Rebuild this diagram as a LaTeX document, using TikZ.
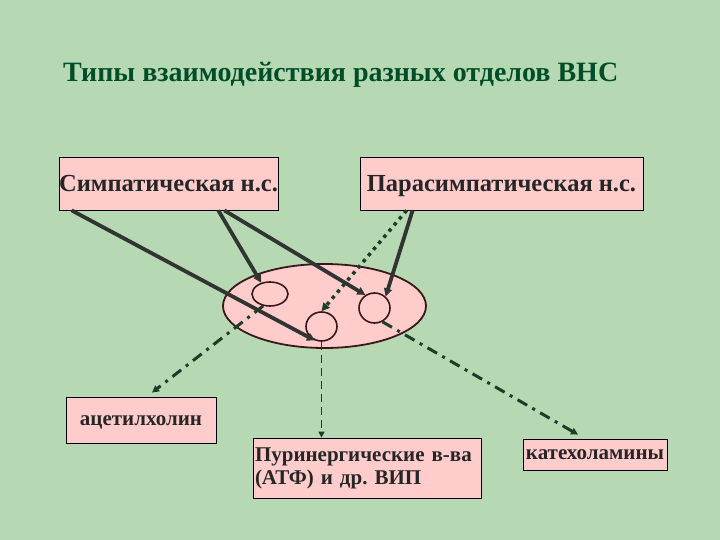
\documentclass[tikz,border=0pt]{standalone}
\usepackage{fontspec}
\setmainfont{Liberation Serif}[BoldFont={Liberation Serif Bold}]
\frenchspacing
\usetikzlibrary{arrows.meta,shapes.geometric}
\definecolor{cBack}{RGB}{182,217,180}
\definecolor{cPink}{RGB}{255,204,204}
\definecolor{cTitle}{RGB}{0,78,40}
\definecolor{cLine}{RGB}{50,52,50}
\definecolor{cDash}{RGB}{28,62,40}
\definecolor{cRim}{RGB}{55,25,25}
\tikzset{
  box/.style={draw=black, line width=0.8pt, fill=cPink, inner sep=0pt, text=black!85},
  bigtext/.style={font=\fontsize{24.5}{28}\selectfont\bfseries, text height=17pt, text depth=0pt},
  smalltext/.style={font=\fontsize{21}{23}\selectfont\bfseries},
  cell/.style={ellipse, draw=cRim, line width=1.6pt, inner sep=0pt},
  axon/.style={cLine, line width=3.8pt, -{Triangle[length=8pt,width=8pt]}},
  dotax/.style={cDash, line width=3.5pt, dash pattern=on 3.5pt off 4.5pt, -{Triangle[length=8pt,width=8pt]}},
  dashdot/.style={cDash, line width=3pt, dash pattern=on 11pt off 6pt on 3pt off 6pt, -{Triangle[length=7pt,width=7pt]}},
  thindash/.style={cDash, line width=1.5pt, dash pattern=on 8pt off 5pt, -{Triangle[length=6pt,width=6pt]}}
}
\begin{document}
\begin{tikzpicture}[x=1pt,y=-1pt]
        \fill[cBack] (0,0) rectangle (720,540);
        \useasboundingbox (0,0) rectangle (720,540);
        % title
        \node[anchor=base west, inner sep=0pt, text=cTitle, font=\fontsize{28}{32}\selectfont\bfseries] (title) at (63,82) {Типы взаимодействия разных отделов ВНС};
        % top boxes
        \node[box, bigtext, minimum width=217pt, minimum height=53pt] (symp) at (168.5,183.5) {Симпатическая н.с.};
        \node[box, bigtext, minimum width=283pt, minimum height=53pt] (para) at (501.5,183.5) {Парасимпатическая н.с.};
        % effector with three cells
        \node[ellipse, draw=cRim, line width=1.8pt, fill=cPink, minimum width=203pt, minimum height=84pt] (organ) at (324.5,306) {};
        \node[cell, minimum width=36pt, minimum height=24pt] (c1) at (270,294) {};
        \node[cell, minimum width=31pt, minimum height=29pt] (c2) at (321.5,326.5) {};
        \node[cell, minimum width=31pt, minimum height=30pt] (c3) at (374.5,308) {};
        % mediators
        \node[box, smalltext, text height=10pt, text depth=0pt, minimum width=150pt, minimum height=46pt] (ach) at (141,420) {ацетилхолин};
        \node[box, smalltext, align=left, text width=224pt, inner xsep=2pt, minimum height=60pt] (pur) at (367,468) {Пуринергические в-ва\\(АТФ) и др. ВИП};
        \node[box, smalltext, text height=10pt, text depth=0pt, minimum width=144pt, minimum height=31pt] (cat) at (595,454.5) {катехоламины};
        % fibres
        \draw[axon] ([xshift=13pt]symp.south west) -- (c2.245);
        \draw[axon] ([xshift=-60pt]symp.south east) -- (c1.128);
        \draw[axon] ([xshift=-54pt]symp.south east) -- (c3.125);
        \draw[axon] ([xshift=53pt]para.south west) -- (c3.46);
        \draw[dotax] ([xshift=47pt]para.south west) -- (c2.north);
        % release
        \draw[dashdot] (c1.240) -- ([xshift=11pt,yshift=4pt]ach.north);
        \draw[thindash] (c2.south) -- (c2.south |- pur.north);
        \draw[dashdot] (c3.-60) -- ([xshift=-17pt,yshift=4pt]cat.north);
        \end{tikzpicture}
\end{document}
